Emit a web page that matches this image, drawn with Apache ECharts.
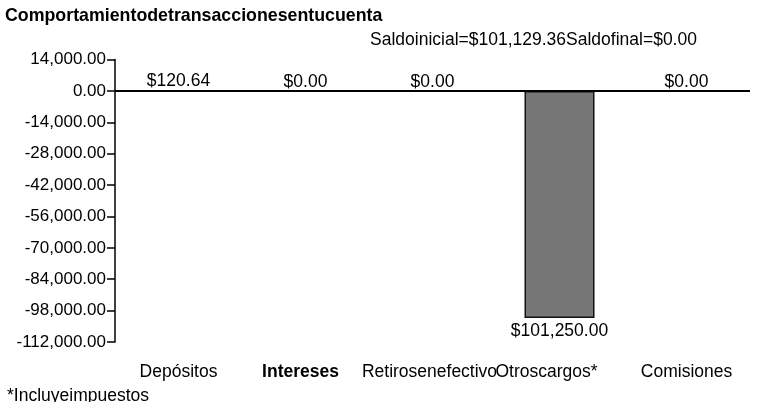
<!DOCTYPE html>
<html><head><meta charset="utf-8">
<script src="https://cdn.jsdelivr.net/npm/echarts@6/dist/echarts.min.js"></script>
<style>html,body{margin:0;padding:0;background:#fff}#c{width:768px;height:402px}</style>
</head><body><div id="c"></div>
<script>
const categories = ['Depósitos', 'Intereses', 'Retirosenefectivo', 'Otroscargos*', 'Comisiones'];
const values = [120.64, 0, 0, -101250, 0];
const yTicks = { min: -112000, max: 14000, interval: 14000 };
const titleText = 'Comportamientodetransaccionesentucuenta';
const subText = 'Saldoinicial=$101,129.36Saldofinal=$0.00';
const footText = '*Incluyeimpuestos';

const FONT = '"Liberation Sans", Arial, sans-serif';
const FS = 17.5;
function fmt(v) {
  return Math.abs(v).toLocaleString('en-US', { minimumFractionDigits: 2, maximumFractionDigits: 2 });
}
const chart = echarts.init(document.getElementById('c'));
chart.setOption({
  animation: false,
  backgroundColor: '#fff',
  title: [
    { text: titleText, left: 5, top: 7, padding: 0, textStyle: { fontFamily: FONT, fontSize: 17.8, fontWeight: 'bold', color: '#000' } },
    { text: subText, left: 370, top: 31, padding: 0, textStyle: { fontFamily: FONT, fontSize: 17.5, fontWeight: 'normal', color: '#000' } },
    { text: footText, left: 7, top: 387, padding: 0, textStyle: { fontFamily: FONT, fontSize: FS, fontWeight: 'normal', color: '#000' } }
  ],
  grid: { left: 115, right: 18, top: 59.5, bottom: 60, containLabel: false },
  xAxis: {
    type: 'category',
    data: categories,
    position: 'bottom',
    axisLine: { show: false, onZero: false },
    axisTick: { show: false },
    axisLabel: {
      interval: 0, hideOverlap: false, margin: 21,
      fontFamily: FONT, fontSize: FS, color: '#000',
      formatter: v => v === 'Intereses' ? '{b|' + v + '}'
        : v === 'Otroscargos*' ? '{o|' + v + '}'
        : v === 'Retirosenefectivo' ? '{r|' + v + '}' : v,
      rich: {
        b: { fontFamily: FONT, fontSize: FS, fontWeight: 'bold', color: '#000', padding: [0, 10, 0, 0] },
        o: { fontFamily: FONT, fontSize: FS, color: '#000', padding: [0, 26, 0, 0] },
        r: { fontFamily: FONT, fontSize: FS, color: '#000', padding: [0, 6, 0, 0] }
      }
    },
    splitLine: { show: false }
  },
  yAxis: {
    type: 'value',
    min: yTicks.min, max: yTicks.max, interval: yTicks.interval,
    axisLine: { show: true, lineStyle: { color: '#000', width: 1.5 } },
    axisTick: { show: true, length: 8, lineStyle: { color: '#000', width: 1.5 } },
    axisLabel: { fontFamily: FONT, fontSize: 17, color: '#000', margin: 9,
      formatter: v => (v < 0 ? '-' : '') + fmt(v) },
    splitLine: { show: false }
  },
  series: [{
    type: 'bar',
    data: values.map(v => ({
      value: v,
      itemStyle: { borderWidth: v === 0 ? 0 : 1.5 },
      label: { position: v < 0 ? 'bottom' : 'top', distance: v < 0 ? 4 : 0 }
    })),
    barWidth: 70,
    itemStyle: { color: '#777777', borderColor: '#111', borderWidth: 1.5 },
    label: { show: true, fontFamily: FONT, fontSize: FS, color: '#000',
      formatter: p => '$' + fmt(p.value) },
    markLine: {
      silent: true, symbol: 'none', animation: false,
      label: { show: false },
      lineStyle: { color: '#000', width: 2, type: 'solid' },
      data: [{ yAxis: 0 }]
    }
  }]
});
</script></body></html>
